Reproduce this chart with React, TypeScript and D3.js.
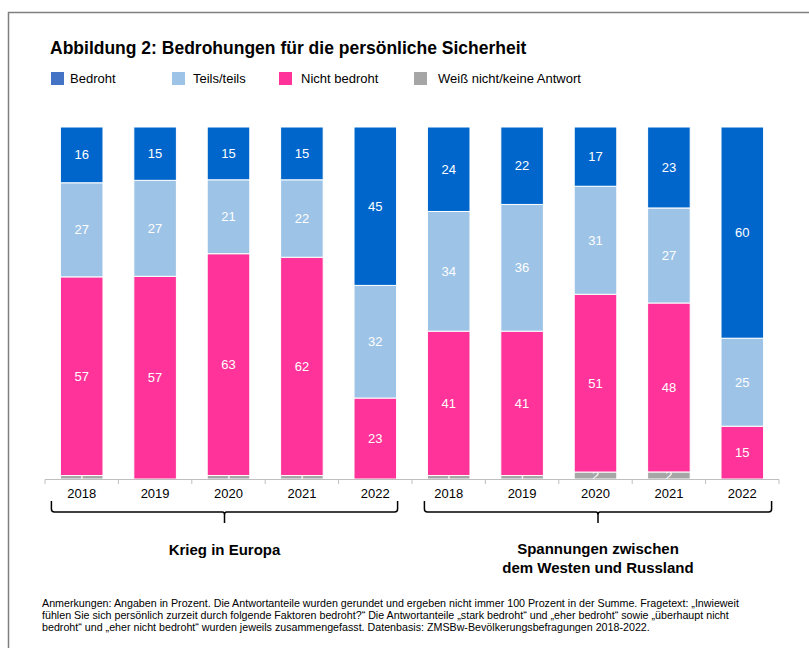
import * as d3 from 'd3'

// Chart data
const groups = ['Krieg in Europa', 'Spannungen zwischen dem Westen und Russland']
const years = ['2018', '2019', '2020', '2021', '2022']
const seriesNames = ['Weiß nicht/keine Antwort', 'Nicht bedroht', 'Teils/teils', 'Bedroht']

const bedroht = [16, 15, 15, 15, 45, 24, 22, 17, 23, 60]
const teils = [27, 27, 21, 22, 32, 34, 36, 31, 27, 25]
const nicht = [57, 57, 63, 62, 23, 41, 41, 51, 48, 15]
const weiss = [1, 0, 1, 1, 0, 1, 1, 2, 2, 0]

const legendItems = ['Bedroht', 'Teils/teils', 'Nicht bedroht', 'Weiß nicht/keine Antwort']

const footnote = [
  'Anmerkungen: Angaben in Prozent. Die Antwortanteile wurden gerundet und ergeben nicht immer 100 Prozent in der Summe. Fragetext: „Inwieweit',
  'fühlen Sie sich persönlich zurzeit durch folgende Faktoren bedroht?“ Die Antwortanteile „stark bedroht“ und „eher bedroht“ sowie „überhaupt nicht',
  'bedroht“ und „eher nicht bedroht“ wurden jeweils zusammengefasst. Datenbasis: ZMSBw-Bevölkerungsbefragungen 2018-2022.',
]

const W = 809
const H = 648
const font = '"Liberation Sans", Arial, sans-serif'

const barColors: Record<string, string> = {
  Bedroht: '#0066cc',
  'Teils/teils': '#9dc3e6',
  'Nicht bedroht': '#ff3399',
  'Weiß nicht/keine Antwort': '#a6a6a6',
}
const legendColors = ['#4472c4', '#9dc3e6', '#ff3399', '#a6a6a6']
const legendSwatchX = [51, 172, 279, 414]
const legendTextX = [70, 193, 301, 438]
// how far each brace reaches past its first / last bar
const braceReach = [
  [9, 1],
  [3, 8],
]

export default function App() {
  const rows = groups.flatMap((g, gi) =>
    years.map((y, yi) => {
      const i = gi * years.length + yi
      return {
        key: `${gi}-${y}`,
        year: y,
        'Bedroht': bedroht[i],
        'Teils/teils': teils[i],
        'Nicht bedroht': nicht[i],
        'Weiß nicht/keine Antwort': weiss[i],
      }
    })
  )

  const stack = d3.stack<any>().keys(seriesNames).offset(d3.stackOffsetExpand)
  const layers = stack(rows)

  const pad = 0.42
  const x = d3
    .scaleBand()
    .domain(rows.map((r) => r.key))
    .range([45, 779])
    .paddingInner(pad)
    .paddingOuter(pad / 2)
  const y = d3.scaleLinear().domain([0, 1]).range([479, 127])

  const step = x.step()
  const tickXs = rows.map((r) => (x(r.key) as number) - (step * pad) / 2)
  tickXs.push(779)

  // brace path helper
  const brace = (x0: number, x1: number) => {
    const top = 501
    const yb = 512
    const r = 3
    const mid = (x0 + x1) / 2
    return `M${x0},${top} L${x0},${yb - r} Q${x0},${yb} ${x0 + r},${yb} L${mid - 2},${yb} Q${mid},${yb} ${mid},${yb + 3} L${mid},523 M${mid},${yb + 3} Q${mid},${yb} ${mid + 2},${yb} L${x1 - r},${yb} Q${x1},${yb} ${x1},${yb - r} L${x1},${top}`
  }

  const groupSpan = (gi: number) => {
    const first = rows[gi * years.length].key
    const last = rows[gi * years.length + years.length - 1].key
    return [(x(first) as number) - braceReach[gi][0], (x(last) as number) + x.bandwidth() + braceReach[gi][1]]
  }
  const mid0 = (groupSpan(0)[0] + groupSpan(0)[1]) / 2
  const mid1 = (groupSpan(1)[0] + groupSpan(1)[1]) / 2

  return (
    <svg
      width={W}
      height={H}
      style={{ position: 'absolute', left: 0, top: 0, background: '#fff' }}
      fontFamily={font}
    >
      <rect x={0} y={0} width={W} height={H} fill="#fff" />
      {/* frame */}
      <path d={`M8.5,${H} L8.5,12.5 L${W},12.5`} fill="none" stroke="#7f7f7f" strokeWidth={1.5} />

      <text x={50} y={54} fontSize={17.5} fontWeight="bold" fill="#000">
        Abbildung 2: Bedrohungen für die persönliche Sicherheit
      </text>

      {legendItems.map((name, i) => (
        <g key={name}>
          <rect x={legendSwatchX[i]} y={72} width={13} height={13} fill={legendColors[i]} />
          <text x={legendTextX[i]} y={82.5} fontSize={13} fill="#000">
            {name}
          </text>
        </g>
      ))}

      <defs>
        {layers.map((layer) =>
          layer.map((d, i) => (
            <clipPath key={`${layer.key}-${i}`} id={`clip-${i}-${seriesNames.indexOf(layer.key)}`}>
              <rect
                x={x(rows[i].key)}
                y={y(d[1])}
                width={x.bandwidth()}
                height={Math.max(0, y(d[0]) - y(d[1]))}
              />
            </clipPath>
          ))
        )}
      </defs>

      {layers.map((layer) => (
        <g key={layer.key}>
          {layer.map((d, i) => {
            const h = y(d[0]) - y(d[1])
            if (h <= 0) return null
            return (
              <rect
                key={i}
                x={x(rows[i].key)}
                y={y(d[1])}
                width={x.bandwidth()}
                height={h}
                fill={barColors[layer.key]}
                stroke="#fff"
                strokeWidth={1}
              />
            )
          })}
        </g>
      ))}

      {layers.map((layer) => (
        <g key={`lab-${layer.key}`}>
          {layer.map((d, i) => {
            const v = (rows[i] as any)[layer.key]
            if (!v) return null
            const cx = (x(rows[i].key) as number) + x.bandwidth() / 2
            const cy = (y(d[0]) + y(d[1])) / 2
            return (
              <text
                key={i}
                x={cx}
                y={cy + 4.5}
                textAnchor="middle"
                fontSize={13}
                fill="#fff"
                clipPath={`url(#clip-${i}-${seriesNames.indexOf(layer.key)})`}
              >
                {v}
              </text>
            )
          })}
        </g>
      ))}

      {/* x axis */}
      <line x1={45} x2={779} y1={479.5} y2={479.5} stroke="#bfbfbf" strokeWidth={1} />
      {tickXs.map((tx, i) => (
        <line key={i} x1={tx} x2={tx} y1={479.5} y2={484} stroke="#bfbfbf" strokeWidth={1} />
      ))}
      {rows.map((r) => (
        <text
          key={r.key}
          x={(x(r.key) as number) + x.bandwidth() / 2}
          y={497.5}
          textAnchor="middle"
          fontSize={13}
          fill="#000"
        >
          {r.year}
        </text>
      ))}

      {groups.map((g, gi) => {
        const [a, b] = groupSpan(gi)
        return <path key={g} d={brace(a, b)} fill="none" stroke="#000" strokeWidth={1.5} />
      })}

      <text x={mid0} y={555} textAnchor="middle" fontSize={15} fontWeight="bold" fill="#000">
        {groups[0]}
      </text>
      <text x={mid1} y={554} textAnchor="middle" fontSize={15} fontWeight="bold" fill="#000">
        <tspan x={mid1}>Spannungen zwischen</tspan>
        <tspan x={mid1} dy={19}>
          dem Westen und Russland
        </tspan>
      </text>

      {footnote.map((line, i) => (
        <text key={i} x={42} y={607 + i * 12} fontSize={10.7} fill="#000">
          {line}
        </text>
      ))}
    </svg>
  )
}
